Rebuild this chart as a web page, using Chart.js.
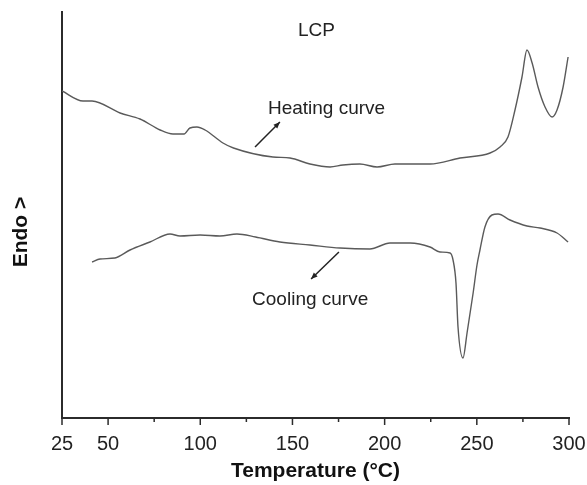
<!DOCTYPE html>
<html>
<head>
<meta charset="utf-8">
<script src="https://cdn.jsdelivr.net/npm/chart.js@4"></script>
<style>
  html, body { margin: 0; padding: 0; background: #fff; }
  #wrap { width: 587px; height: 485px; }
</style>
</head>
<body>
<div id="wrap"><canvas id="dsc"></canvas></div>
<script>
// DSC curves of the LCP, heat flow in arbitrary units

const heatingTemp = [25, 36.4, 41.3, 56.5, 67.3, 78.2, 85.2, 91.2, 94.4, 98.2, 102.6, 112.3, 118, 139.4, 148.7, 159.5, 170.4, 177.4, 186.6, 195.9, 205.6, 213.8, 224.6, 240.9, 257.2, 262.6, 266.9, 270.7, 274.5, 277.2, 280, 283.2, 287, 290.8, 293.5, 296.8, 299.5];
const heatingFlow = [327, 317, 317, 305, 299, 288, 284, 284, 290, 291, 288, 275, 270, 261, 260, 254, 251, 253, 254, 251, 254, 254, 254, 260, 265, 271, 281, 308, 341, 368, 355, 331, 311, 301, 308, 331, 361];

const coolingTemp = [41.3, 45.6, 53.7, 61.9, 72.7, 83.6, 89, 99.9, 110.7, 119.9, 130, 143.2, 159.5, 175.8, 192, 202.9, 213.8, 224.6, 230, 235.5, 237.1, 238.7, 239.8, 242.5, 244.7, 248, 250.1, 251.7, 254.4, 258.2, 261.5, 268, 277.2, 284.3, 293.5, 299.5];
const coolingFlow = [156, 159, 160, 168, 176, 184, 182, 183, 182, 184, 181, 176, 173, 170, 169, 175, 175, 171, 166, 165, 158, 135, 91, 60, 85, 125, 153, 168, 191, 203, 204, 198, 192, 190, 185, 176];

const xMajorTicks = [25, 50, 100, 150, 200, 250, 300];
const xMinorTicks = [75, 125, 175, 225, 275];

// text labels and arrows, in data units
const notes = [
  { text: 'LCP', x: 153, y: 382 },
  { text: 'Heating curve', x: 136.7, y: 304 },
  { text: 'Cooling curve', x: 128.1, y: 113 }
];
const arrows = [
  { from: [129.7, 271], to: [143.2, 296] },
  { from: [175.2, 166], to: [160.1, 139] }
];

const FONT = '"Liberation Sans", Arial, sans-serif';
const AXIS = '#2b2b2b';
const CURVE = '#5a5a5a';

function toPoints(xs, ys) {
  return xs.map(function (x, i) { return { x: x, y: ys[i] }; });
}

const extras = {
  id: 'extras',
  afterDraw(chart) {
    const ctx = chart.ctx;
    const xs = chart.scales.x;
    const ys = chart.scales.y;
    const base = chart.chartArea.bottom;
    ctx.save();
    // tick marks
    ctx.strokeStyle = AXIS;
    ctx.lineWidth = 1.5;
    xMajorTicks.forEach(function (v) {
      const px = xs.getPixelForValue(v);
      ctx.beginPath(); ctx.moveTo(px, base); ctx.lineTo(px, base + 7); ctx.stroke();
    });
    xMinorTicks.forEach(function (v) {
      const px = xs.getPixelForValue(v);
      ctx.beginPath(); ctx.moveTo(px, base); ctx.lineTo(px, base + 4); ctx.stroke();
    });
    // notes
    ctx.fillStyle = '#222';
    ctx.font = '19px ' + FONT;
    ctx.textAlign = 'left';
    ctx.textBaseline = 'alphabetic';
    notes.forEach(function (n) {
      ctx.fillText(n.text, xs.getPixelForValue(n.x), ys.getPixelForValue(n.y));
    });
    // arrows
    ctx.strokeStyle = '#222';
    ctx.fillStyle = '#222';
    ctx.lineWidth = 1.5;
    arrows.forEach(function (a) {
      const x1 = xs.getPixelForValue(a.from[0]), y1 = ys.getPixelForValue(a.from[1]);
      const x2 = xs.getPixelForValue(a.to[0]), y2 = ys.getPixelForValue(a.to[1]);
      const ang = Math.atan2(y2 - y1, x2 - x1);
      ctx.beginPath(); ctx.moveTo(x1, y1); ctx.lineTo(x2, y2); ctx.stroke();
      ctx.beginPath();
      ctx.moveTo(x2, y2);
      ctx.lineTo(x2 - 7 * Math.cos(ang - 0.4), y2 - 7 * Math.sin(ang - 0.4));
      ctx.lineTo(x2 - 7 * Math.cos(ang + 0.4), y2 - 7 * Math.sin(ang + 0.4));
      ctx.closePath(); ctx.fill();
    });
    // y axis title
    ctx.font = 'bold 21px ' + FONT;
    ctx.fillStyle = '#111';
    ctx.textAlign = 'center';
    ctx.textBaseline = 'middle';
    ctx.translate(chart.chartArea.left - 41, ys.getPixelForValue(186));
    ctx.rotate(-Math.PI / 2);
    ctx.fillText('Endo >', 0, 0);
    ctx.restore();
  }
};

const ctx = document.getElementById('dsc').getContext('2d');
const dscChart = new Chart(ctx, {
  type: 'line',
  data: {
    datasets: [
      {
        label: 'Heating curve',
        data: toPoints(heatingTemp, heatingFlow),
        borderColor: CURVE,
        borderWidth: 1.4,
        pointRadius: 0,
        cubicInterpolationMode: 'monotone',
        fill: false
      },
      {
        label: 'Cooling curve',
        data: toPoints(coolingTemp, coolingFlow),
        borderColor: CURVE,
        borderWidth: 1.4,
        pointRadius: 0,
        cubicInterpolationMode: 'monotone',
        fill: false
      }
    ]
  },
  options: {
    responsive: true,
    maintainAspectRatio: false,
    animation: false,
    layout: { padding: { left: 62, right: 18, top: 12, bottom: 0 } },
    plugins: {
      legend: { display: false },
      tooltip: { enabled: false }
    },
    scales: {
      x: {
        type: 'linear',
        min: 25,
        max: 300,
        afterBuildTicks: function (scale) {
          scale.ticks = xMajorTicks.concat(xMinorTicks).sort(function (a, b) { return a - b; })
            .map(function (v) { return { value: v }; });
        },
        afterFit: function (scale) {
          scale.height = 67;
          scale.paddingLeft = 0;
          scale.paddingRight = 0;
        },
        grid: { display: true, drawOnChartArea: false, drawTicks: false },
        border: { display: true, color: AXIS, width: 2 },
        ticks: {
          autoSkip: false,
          maxRotation: 0,
          padding: 14,
          color: '#222',
          font: { family: FONT, size: 20 },
          callback: function (v) { return xMajorTicks.indexOf(v) >= 0 ? String(v) : ''; }
        },
        title: {
          display: true,
          text: 'Temperature (°C)',
          color: '#111',
          font: { family: FONT, size: 21, weight: 'bold' },
          padding: { top: 0, bottom: 1 }
        }
      },
      y: {
        min: 0,
        max: 406,
        afterFit: function (scale) {
          scale.width = 0;
          scale.paddingTop = 0;
          scale.paddingBottom = 0;
        },
        grid: { display: true, drawOnChartArea: false, drawTicks: false },
        border: { display: true, color: AXIS, width: 2 },
        ticks: { display: false }
      }
    }
  },
  plugins: [extras]
});
</script>
</body>
</html>
